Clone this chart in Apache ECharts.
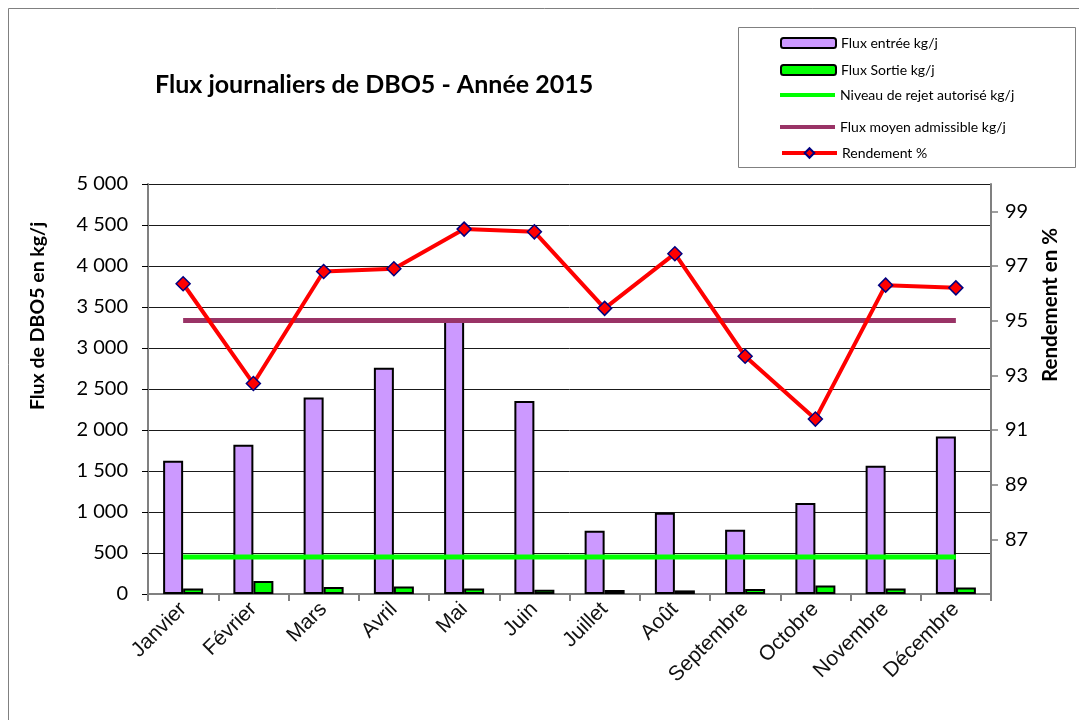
<!DOCTYPE html>
<html>
<head>
<meta charset="utf-8">
<script src="https://cdn.jsdelivr.net/npm/echarts@6/dist/echarts.min.js"></script>
<style>
html,body{margin:0;padding:0;background:#fff;}
#chart{width:1079px;height:720px;}
</style>
</head>
<body>
<div id="chart"></div>
<script>
const months = ['Janvier','Février','Mars','Avril','Mai','Juin','Juillet','Août','Septembre','Octobre','Novembre','Décembre'];
const fluxEntree = [1625, 1820, 2395, 2760, 3350, 2355, 770, 990, 785, 1110, 1565, 1920];
const fluxSortie = [68, 160, 85, 92, 68, 52, 50, 44, 62, 105, 68, 80];
const niveauRejet = [450, 450, 450, 450, 450, 450, 450, 450, 450, 450, 450, 450];
const fluxAdmissible = [3335, 3335, 3335, 3335, 3335, 3335, 3335, 3335, 3335, 3335, 3335, 3335];
const rendement = [96.35, 92.7, 96.8, 96.9, 98.35, 98.25, 95.45, 97.45, 93.7, 91.4, 96.3, 96.2];

const seriesNames = ['Flux entrée kg/j','Flux Sortie kg/j','Niveau de rejet autorisé kg/j','Flux moyen admissible kg/j','Rendement %'];

const chart = echarts.init(document.getElementById('chart'));
const legendFont = {fontFamily:'Lato', fontSize:14, color:'#000'};
const legendTops = [31, 58, 83, 115, 141];
const legendIcons = [null, null, 'rect', 'rect', null];
const legendHeights = [10, 10, 4, 4, 12];
const legends = seriesNames.map((n,i)=>({
  data:[legendIcons[i] ? {name:n, icon:legendIcons[i]} : {name:n}],
  left:775, top:legendTops[i], itemWidth:55, itemHeight:legendHeights[i], itemGap:0,
  lineStyle:{width:4},
  textStyle:Object.assign({}, legendFont), selectedMode:false
}));

function fmtThousands(v){
  return String(v).replace(/\B(?=(\d{3})+(?!\d))/g, ' ');
}

chart.setOption({
  animation:false,
  backgroundColor:'#fff',
  title:{
    text:'Flux journaliers de DBO5 - Année 2015',
    left:150, top:67,
    textStyle:{fontFamily:'Lato', fontWeight:'bold', fontSize:25, color:'#000'}
  },
  legend:legends,
  graphic:[
    {type:'rect', shape:{x:8.5, y:8.5, width:1200, height:900}, style:{fill:'none', stroke:'#808080', lineWidth:1}, silent:true},
    {type:'rect', shape:{x:738.5, y:27.5, width:337, height:140}, style:{fill:'none', stroke:'#808080', lineWidth:1}, silent:true},
    {type:'text', x:38, y:316, rotation:Math.PI/2, style:{text:'Flux de DBO5 en kg/j', align:'center', verticalAlign:'middle', font:'bold 19.5px Lato', fill:'#000'}},
    {type:'text', x:1050, y:305, rotation:Math.PI/2, style:{text:'Rendement en %', align:'center', verticalAlign:'middle', font:'bold 20.5px Lato', fill:'#000'}}
  ],
  grid:{left:148, right:88, top:184, bottom:126},
  xAxis:{
    type:'category', data:months,
    axisLine:{lineStyle:{color:'#808080', width:2}},
    axisTick:{show:true, length:7, lineStyle:{color:'#808080', width:2}},
    axisLabel:{rotate:45, fontFamily:'Liberation Sans', fontSize:21, color:'#111', margin:12, interval:0}
  },
  yAxis:[
    {
      type:'value', min:0, max:5000, interval:500,
      axisLine:{show:true, lineStyle:{color:'#808080', width:2}},
      axisTick:{show:true, length:6, inside:false, lineStyle:{color:'#000', width:1}},
      splitLine:{show:true, lineStyle:{color:'#1a1a1a', width:1}},
      axisLabel:{fontFamily:'Lato', fontSize:20, color:'#000', margin:20, formatter:fmtThousands, padding:[8,0,0,0]}
    },
    {
      type:'value', min:85, max:100, interval:2,
      axisLine:{show:true, lineStyle:{color:'#808080', width:2}},
      axisTick:{show:true, length:7, lineStyle:{color:'#808080', width:1.5}},
      splitLine:{show:false},
      axisLabel:{fontFamily:'Lato', fontSize:20, color:'#000', margin:14, showMinLabel:false, showMaxLabel:false}
    }
  ],
  series:[
    {name:seriesNames[0], type:'bar', data:fluxEntree, barWidth:20, barGap:'0%',
     itemStyle:{color:'#cc99ff', borderColor:'#000', borderWidth:2}},
    {name:seriesNames[1], type:'bar', data:fluxSortie, barWidth:20, barGap:'0%',
     itemStyle:{color:'#00ff00', borderColor:'#000', borderWidth:2}},
    {name:seriesNames[2], type:'line', data:niveauRejet, symbol:'none',
     lineStyle:{color:'#00ff00', width:5}, itemStyle:{color:'#00ff00'}, z:3},
    {name:seriesNames[3], type:'line', data:fluxAdmissible, symbol:'none',
     lineStyle:{color:'#993366', width:5}, itemStyle:{color:'#993366'}, z:3},
    {name:seriesNames[4], type:'line', yAxisIndex:1, data:rendement, symbol:'diamond', symbolSize:14,
     lineStyle:{color:'#ff0000', width:4},
     itemStyle:{color:'#ff0000', borderColor:'#000080', borderWidth:1.5}, z:4}
  ]
});
</script>
</body>
</html>
